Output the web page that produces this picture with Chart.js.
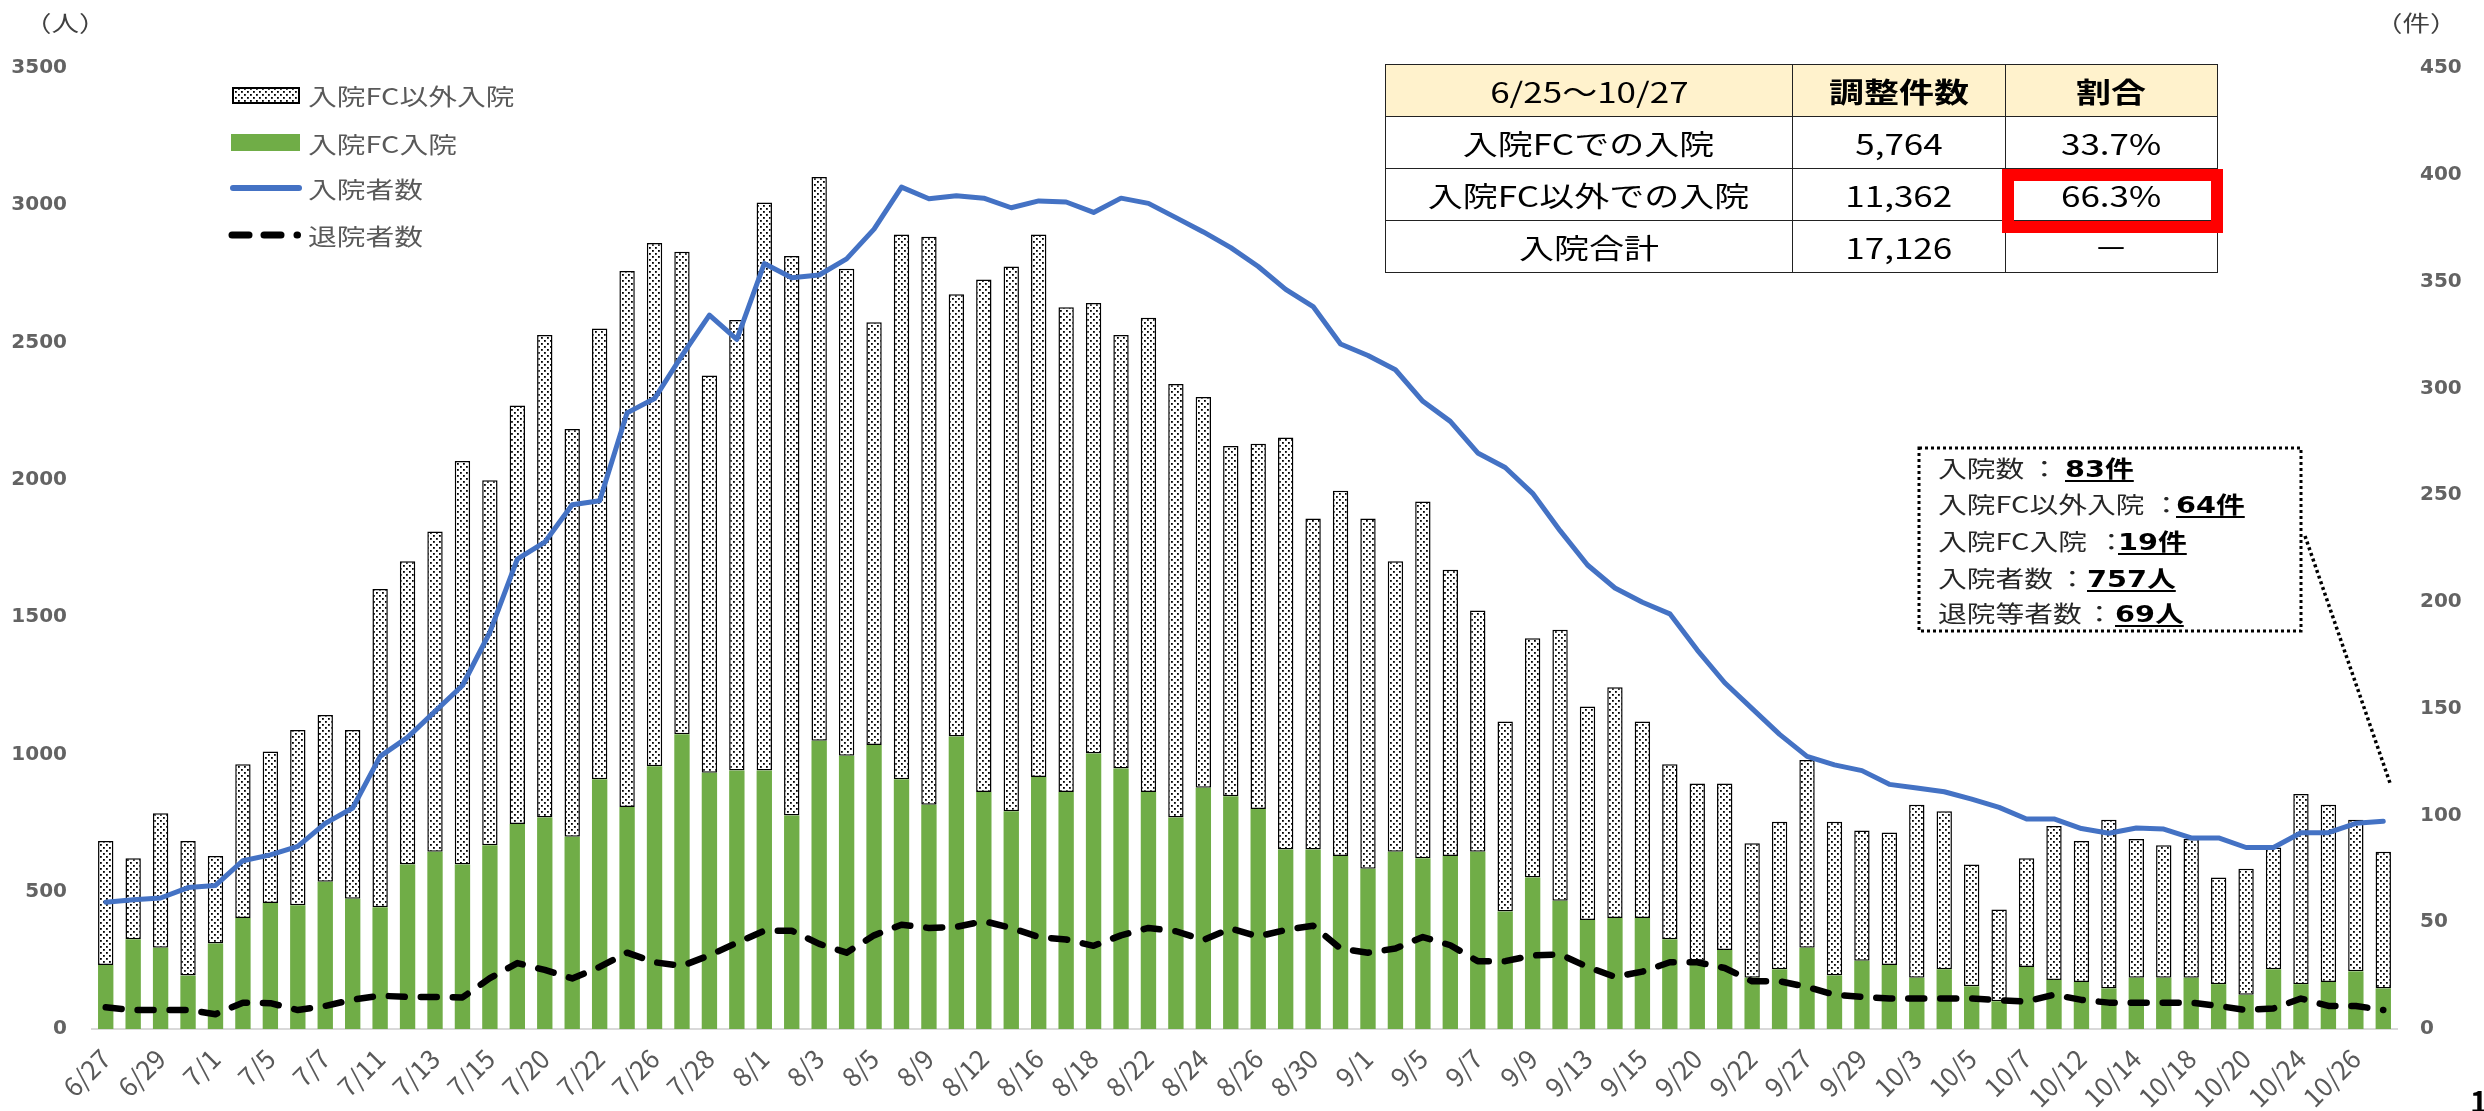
<!DOCTYPE html>
<html lang="ja">
<head>
<meta charset="utf-8">
<title>入院調整件数の推移</title>
<script src="https://cdn.jsdelivr.net/npm/chart.js@4.4.1/dist/chart.umd.min.js"></script>
<style>
  html, body { margin: 0; padding: 0; background: #fff; }
  #wrap { position: relative; width: 2484px; height: 1111px; overflow: hidden;
          font-family: 'Noto Sans CJK JP', 'DejaVu Sans', sans-serif; }
  #chart { position: absolute; left: 0; top: 0; }
  #shapes { position: absolute; left: 0; top: 0; pointer-events: none; }
  .abs { position: absolute; white-space: nowrap; }
  .sx { display: inline-block; transform: scaleX(1.25); transform-origin: left center; }
  .sxc { display: inline-block; transform: scaleX(1.25); transform-origin: center center; }
  .unit { font-size: 22px; color: #404040; line-height: 26px; }
  .leg { left: 308px; font-size: 23px; line-height: 32px; color: #595959; }
  #summary { position: absolute; left: 1385px; top: 64px; border-collapse: collapse;
             table-layout: fixed; width: 832px; font-size: 28px; color: #000; }
  #summary td { border: 1.5px solid #222; height: 51px; padding: 0; text-align: center;
                line-height: 50px; }
  #summary tr.head td { background: #FFF2CC; }
  #summary .b { font-weight: bold; }
  #redbox { position: absolute; left: 2002px; top: 169px; width: 221px; height: 64px;
            box-sizing: border-box; border: 12px solid #FF0000; }
  .note { font-size: 23px; line-height: 36px; color: #262626; }
  .val { font-family: 'DejaVu Sans', 'Noto Sans CJK JP', sans-serif; font-weight: bold;
         color: #000; text-decoration: underline; text-decoration-thickness: 2px;
         text-underline-offset: 3px; }
  #page { left: 2470px; top: 1078px; font-size: 30px; font-weight: bold; color: #000; }
</style>
</head>
<body>
<div id="wrap">
  <canvas id="chart" width="2484" height="1111"></canvas>

  <svg id="shapes" width="2484" height="1111">
    <defs>
      <pattern id="dots" width="6" height="6" patternUnits="userSpaceOnUse">
        <rect width="6" height="6" fill="#fff"/>
        <rect x="1" y="1" width="1.8" height="1.8" fill="#000"/>
        <rect x="4" y="4" width="1.8" height="1.8" fill="#000"/>
      </pattern>
    </defs>
    <!-- legend swatches -->
    <rect x="233" y="88" width="66" height="15" fill="url(#dots)" stroke="#000" stroke-width="2"/>
    <rect x="231" y="134" width="69" height="17" fill="#70AD47"/>
    <line x1="233" y1="188" x2="299" y2="188" stroke="#4472C4" stroke-width="6" stroke-linecap="round"/>
    <line x1="232" y1="235" x2="249" y2="235" stroke="#000" stroke-width="7" stroke-linecap="round"/>
    <line x1="264" y1="235" x2="281" y2="235" stroke="#000" stroke-width="7" stroke-linecap="round"/>
    <line x1="297" y1="235" x2="297.5" y2="235" stroke="#000" stroke-width="7" stroke-linecap="round"/>
    <!-- annotation box and leader -->
    <rect x="1919" y="448" width="382" height="183" fill="#fff" stroke="#000" stroke-width="3" stroke-dasharray="3 3"/>
    <line x1="2305" y1="536" x2="2390" y2="783" stroke="#000" stroke-width="3.5" stroke-dasharray="3 3"/>
  </svg>

  <div class="abs unit" style="left:24px; top:8px;"><span class="sx">（人）</span></div>
  <div class="abs unit" style="left:2375px; top:8px;"><span class="sx">（件）</span></div>

  <div class="abs leg" style="top:79px;"><span class="sx">入院FC以外入院</span></div>
  <div class="abs leg" style="top:127px;"><span class="sx">入院FC入院</span></div>
  <div class="abs leg" style="top:172px;"><span class="sx">入院者数</span></div>
  <div class="abs leg" style="top:219px;"><span class="sx">退院者数</span></div>

  <table id="summary">
    <colgroup><col style="width:407px"><col style="width:213px"><col style="width:212px"></colgroup>
    <tr class="head"><td><span class="sxc">6/25～10/27</span></td><td class="b"><span class="sxc">調整件数</span></td><td class="b"><span class="sxc">割合</span></td></tr>
    <tr><td><span class="sxc">入院FCでの入院</span></td><td><span class="sxc">5,764</span></td><td><span class="sxc">33.7%</span></td></tr>
    <tr><td><span class="sxc">入院FC以外での入院</span></td><td><span class="sxc">11,362</span></td><td><span class="sxc">66.3%</span></td></tr>
    <tr><td><span class="sxc">入院合計</span></td><td><span class="sxc">17,126</span></td><td><span class="sxc">－</span></td></tr>
  </table>
  <div id="redbox"></div>

  <div class="abs note" style="left:1938px; top:449px;"><span class="sx">入院数</span></div>
  <div class="abs note" style="left:2030px; top:449px;"><span class="sx">：</span></div>
  <div class="abs note" style="left:2065px; top:449px;"><span class="sx val">83件</span></div>

  <div class="abs note" style="left:1938px; top:485px;"><span class="sx">入院FC以外入院</span></div>
  <div class="abs note" style="left:2152px; top:485px;"><span class="sx">：</span></div>
  <div class="abs note" style="left:2176px; top:485px;"><span class="sx val">64件</span></div>

  <div class="abs note" style="left:1938px; top:522px;"><span class="sx">入院FC入院</span></div>
  <div class="abs note" style="left:2097px; top:522px;"><span class="sx">：</span></div>
  <div class="abs note" style="left:2118px; top:522px;"><span class="sx val">19件</span></div>

  <div class="abs note" style="left:1938px; top:559px;"><span class="sx">入院者数</span></div>
  <div class="abs note" style="left:2058px; top:559px;"><span class="sx">：</span></div>
  <div class="abs note" style="left:2087px; top:559px;"><span class="sx val">757人</span></div>

  <div class="abs note" style="left:1938px; top:594px;"><span class="sx">退院等者数</span></div>
  <div class="abs note" style="left:2085px; top:594px;"><span class="sx">：</span></div>
  <div class="abs note" style="left:2115px; top:594px;"><span class="sx val">69人</span></div>

  <div class="abs" id="page">1</div>
</div>

<script>
// 日付（平日のみ）
const dateLabels = [
  "6/27", "6/28", "6/29", "6/30", "7/1", "7/4", "7/5", "7/6", "7/7", "7/8",
  "7/11", "7/12", "7/13", "7/14", "7/15", "7/19", "7/20", "7/21", "7/22", "7/25",
  "7/26", "7/27", "7/28", "7/29", "8/1", "8/2", "8/3", "8/4", "8/5", "8/8",
  "8/9", "8/10", "8/12", "8/15", "8/16", "8/17", "8/18", "8/19", "8/22", "8/23",
  "8/24", "8/25", "8/26", "8/29", "8/30", "8/31", "9/1", "9/2", "9/5", "9/6",
  "9/7", "9/8", "9/9", "9/12", "9/13", "9/14", "9/15", "9/16", "9/20", "9/21",
  "9/22", "9/26", "9/27", "9/28", "9/29", "9/30", "10/3", "10/4", "10/5", "10/6",
  "10/7", "10/11", "10/12", "10/13", "10/14", "10/17", "10/18", "10/19", "10/20", "10/21",
  "10/24", "10/25", "10/26", "10/27",
];

// 入院FC入院（件）
const fcCounts = [
  30, 42, 38, 25, 40, 52, 59, 58, 69, 61,
  57, 77, 83, 77, 86, 96, 99, 90, 117, 104,
  123, 138, 120, 121, 121, 100, 135, 128, 133, 117,
  105, 137, 111, 102, 118, 111, 129, 122, 111, 99,
  113, 109, 103, 84, 84, 81, 75, 83, 80, 81,
  83, 55, 71, 60, 51, 52, 52, 42, 32, 37,
  24, 28, 38, 25, 32, 30, 24, 28, 20, 13,
  29, 23, 22, 19, 24, 24, 24, 21, 16, 28,
  21, 22, 27, 19,
];

// 入院FC以外入院（件）
const otherCounts = [
  58, 38, 63, 63, 41, 72, 71, 82, 78, 79,
  149, 142, 150, 189, 171, 196, 226, 191, 211, 251,
  245, 226, 186, 211, 266, 262, 264, 228, 198, 255,
  266, 207, 240, 255, 254, 227, 211, 203, 222, 203,
  183, 164, 171, 193, 155, 171, 164, 136, 167, 134,
  113, 89, 112, 127, 100, 108, 92, 82, 83, 78,
  63, 69, 88, 72, 61, 62, 81, 74, 57, 43,
  51, 72, 66, 79, 65, 62, 65, 50, 59, 57,
  89, 83, 71, 64,
];

// 入院者数（人）
const inpatients = [
  462, 471, 477, 515, 523, 613, 634, 665, 749, 805,
  993, 1062, 1157, 1251, 1445, 1711, 1773, 1909, 1924, 2244,
  2296, 2453, 2600, 2512, 2788, 2736, 2746, 2805, 2913, 3066,
  3024, 3035, 3026, 2991, 3016, 3012, 2974, 3026, 3007, 2955,
  2903, 2846, 2777, 2694, 2631, 2495, 2453, 2401, 2286, 2213,
  2098, 2045, 1951, 1815, 1690, 1606, 1554, 1512, 1380, 1261,
  1167, 1073, 993, 962, 941, 891, 878, 864, 837, 807,
  765, 765, 730, 713, 732, 728, 696, 696, 661, 661,
  715, 715, 749, 757,
];

// 退院者数（人）
const discharges = [
  79, 69, 69, 69, 54, 96, 94, 69, 84, 107,
  121, 117, 117, 115, 185, 240, 215, 184, 226, 278,
  243, 230, 268, 314, 358, 358, 310, 278, 341, 380,
  368, 372, 393, 368, 335, 326, 303, 341, 368, 356,
  324, 366, 337, 361, 376, 293, 278, 293, 335, 305,
  247, 247, 268, 272, 226, 190, 209, 243, 243, 222,
  174, 174, 153, 125, 117, 111, 111, 111, 111, 105,
  100, 125, 106, 96, 96, 96, 96, 84, 69, 75,
  111, 84, 84, 69,
];

const leftMax = 3500, leftStep = 500;   // 人
const rightMax = 450, rightStep = 50;   // 件

function dotPattern() {
  const c = document.createElement("canvas");
  c.width = 6;
  c.height = 6;
  const g = c.getContext("2d");
  g.fillStyle = "#fff";
  g.fillRect(0, 0, 6, 6);
  g.fillStyle = "#000";
  g.fillRect(1, 1, 1.8, 1.8);
  g.fillRect(4, 4, 1.8, 1.8);
  return g.createPattern(c, "repeat");
}

const tickFont = { family: "'DejaVu Sans', sans-serif", size: 20, weight: "bold" };

new Chart(document.getElementById("chart"), {
  data: {
    labels: dateLabels,
    datasets: [
      {
        type: "line",
        label: "入院者数",
        data: inpatients,
        yAxisID: "y",
        order: 0,
        borderColor: "#4472C4",
        borderWidth: 5,
        borderCapStyle: "round",
        borderJoinStyle: "round",
        pointRadius: 0,
        tension: 0,
      },
      {
        type: "line",
        label: "退院者数",
        data: discharges,
        yAxisID: "y",
        order: 0,
        borderColor: "#000",
        borderWidth: 6.5,
        borderDash: [16, 16],
        borderCapStyle: "round",
        borderJoinStyle: "round",
        pointRadius: 0,
        tension: 0,
      },
      {
        type: "bar",
        label: "入院FC入院",
        data: fcCounts,
        yAxisID: "y1",
        order: 1,
        backgroundColor: "#70AD47",
        borderWidth: 0,
        categoryPercentage: 1,
        barPercentage: 0.56,
      },
      {
        type: "bar",
        label: "入院FC以外入院",
        data: otherCounts,
        yAxisID: "y1",
        order: 2,
        backgroundColor: dotPattern(),
        borderColor: "#000",
        borderWidth: 1.5,
        borderSkipped: false,
        categoryPercentage: 1,
        barPercentage: 0.56,
      },
    ],
  },
  options: {
    responsive: false,
    animation: false,
    devicePixelRatio: 1,
    layout: { padding: { top: 68, left: 0, right: 0, bottom: 0 } },
    plugins: { legend: { display: false }, tooltip: { enabled: false } },
    scales: {
      x: {
        stacked: true,
        grid: { display: false, drawTicks: false },
        border: { display: true, color: "#D9D9D9", width: 2 },
        ticks: {
          autoSkip: false,
          maxRotation: 45,
          minRotation: 45,
          padding: 14,
          color: "#595959",
          font: { family: "'Noto Sans CJK JP', sans-serif", size: 26 },
          callback: (v, i) => (i % 2 === 0 ? dateLabels[i] : ""),
        },
        afterFit: (s) => { s.height = 82; },
      },
      y: {
        position: "left",
        min: 0,
        max: leftMax,
        grid: { display: false, drawTicks: false },
        border: { display: false },
        ticks: {
          stepSize: leftStep,
          padding: 25,
          color: "#636363",
          font: tickFont,
          callback: (v) => String(v),
        },
        afterFit: (s) => { s.width = 92; },
      },
      y1: {
        position: "right",
        stacked: true,
        min: 0,
        max: rightMax,
        grid: { display: false, drawTicks: false },
        border: { display: false },
        ticks: {
          stepSize: rightStep,
          padding: 23,
          color: "#636363",
          font: tickFont,
          callback: (v) => String(v),
        },
        afterFit: (s) => { s.width = 87; },
      },
    },
  },
});
</script>
</body>
</html>
